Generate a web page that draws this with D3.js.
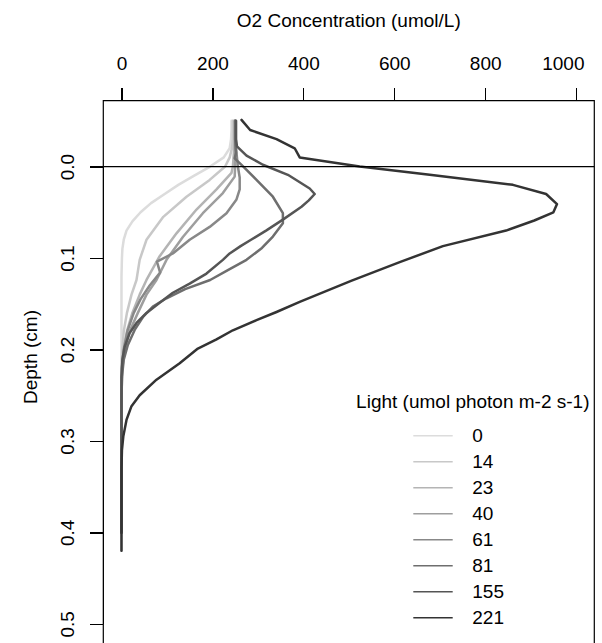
<!DOCTYPE html>
<html>
<head>
<meta charset="utf-8">
<script src="https://cdn.jsdelivr.net/npm/d3@7"></script>
<style>
  html, body { margin: 0; padding: 0; background: #fff; }
  svg { display: block; }
  text { font-family: "Liberation Sans", Arial, Helvetica, sans-serif; fill: #000; }
</style>
</head>
<body>
<svg id="chart" width="602" height="643"></svg>
<script>
// Light levels (umol photon m-2 s-1) and their line shades
const lightLevels = ["0", "14", "23", "40", "61", "81", "155", "221"];
const lineColors = ["#dcdcdc", "#c8c8c8", "#b4b4b4", "#9e9e9e", "#888888", "#6e6e6e", "#555555", "#333333"];

const xTicks = [0, 200, 400, 600, 800, 1000];
const yTicks = [0, 0.1, 0.2, 0.3, 0.4, 0.5];

// O2 profiles: [depth (cm), O2 (umol/L)]
const profile0 = [[-0.05,242],[-0.04,242],[-0.03,241],[-0.02,238],[-0.01,225],[0.0,195],[0.01,160],[0.02,125],[0.03,95],[0.04,65],[0.05,42],[0.06,24],[0.07,11],[0.08,5],[0.09,2],[0.10,1],[0.12,0],[0.2,0],[0.3,0],[0.42,0]];
const profile14 = [[-0.05,245],[-0.03,245],[-0.02,243],[-0.01,238],[0.0,228],[0.0146,194],[0.033,143],[0.055,92],[0.080,55],[0.102,40],[0.124,33],[0.14,22],[0.16,12],[0.18,5],[0.20,2],[0.22,0],[0.30,0],[0.40,0]];
const profile23 = [[-0.05,248],[-0.02,248],[0.0,245],[0.007,242],[0.025,209],[0.047,165],[0.073,121],[0.098,84],[0.124,55],[0.14,40],[0.16,24],[0.18,12],[0.20,5],[0.22,1],[0.25,0],[0.40,0]];
const profile40 = [[-0.05,250],[-0.02,250],[0.0,250],[0.011,249],[0.029,223],[0.051,179],[0.077,135],[0.102,99],[0.124,77],[0.14,55],[0.16,36],[0.18,18],[0.20,7],[0.22,2],[0.25,0],[0.40,0]];
const profile61 = [[-0.05,250],[-0.02,252],[0.0,256],[0.012,260],[0.025,260],[0.036,253],[0.051,231],[0.066,194],[0.080,150],[0.095,113],[0.104,78],[0.116,85],[0.13,62],[0.145,42],[0.16,27],[0.18,13],[0.20,5],[0.22,1],[0.25,0],[0.40,0]];
const profile81 = [[-0.05,250],[-0.03,250],[-0.015,252],[-0.009,249],[0.0,268],[0.0145,297],[0.033,333],[0.051,355],[0.062,355],[0.0765,333],[0.089,309],[0.102,275],[0.113,235],[0.124,195],[0.134,140],[0.144,99],[0.153,69],[0.164,48],[0.1786,29],[0.195,14],[0.211,5],[0.23,1],[0.26,0],[0.40,0]];
const profile155 = [[-0.05,252],[-0.03,252],[-0.022,254],[-0.012,275],[-0.002,311],[0.009,366],[0.024,414],[0.030,425],[0.037,412],[0.044,396],[0.058,355],[0.070,318],[0.080,285],[0.087,262],[0.095,238],[0.102,223],[0.117,187],[0.128,150],[0.138,113],[0.149,84],[0.160,55],[0.171,33],[0.182,18],[0.197,7],[0.211,2],[0.23,0],[0.40,0]];
const profile221 = [[-0.051,264],[-0.040,283],[-0.030,341],[-0.020,381],[-0.010,392],[0.0,524],[0.009,678],[0.020,861],[0.030,934],[0.041,958],[0.050,950],[0.059,908],[0.070,846],[0.087,707],[0.1045,612],[0.125,505],[0.148,392],[0.159,341],[0.168,297],[0.179,245],[0.189,209],[0.199,168],[0.215,128],[0.233,77],[0.250,40],[0.262,22],[0.277,11],[0.295,4],[0.31,1],[0.33,0],[0.42,0]];

const profiles = [profile0, profile14, profile23, profile40, profile61, profile81, profile155, profile221];

const svg = d3.select("#chart");
const fontSize = 19;

// Plot region (depth increases downward, O2 axis on top)
const x = d3.scaleLinear().domain([-40, 1040]).range([103.3, 594.3]);
const y = d3.scaleLinear().domain([-0.072, 0.522]).range([100.7, 644]);

// Profiles
const line = d3.line().x(d => x(d[1])).y(d => y(d[0]));
svg.append("g").selectAll("path")
  .data(profiles)
  .join("path")
  .attr("d", line)
  .attr("fill", "none")
  .attr("stroke", (d, i) => lineColors[i])
  .attr("stroke-width", 2.5)
  .attr("stroke-linejoin", "round")
  .attr("stroke-linecap", "round");

// Sediment surface
svg.append("line")
  .attr("x1", x.range()[0]).attr("x2", x.range()[1])
  .attr("y1", y(0)).attr("y2", y(0))
  .attr("stroke", "#000").attr("stroke-width", 1.3);

// Frame (bottom edge falls below the page)
const [bx0, bx1] = x.range();
const [by0, by1] = y.range();
svg.append("path")
  .attr("d", `M${bx0},${by1 + 2}V${by0}H${bx1}V${by1 + 2}`)
  .attr("fill", "none").attr("stroke", "#000").attr("stroke-width", 1.2);

// Top axis
const xAxis = svg.append("g")
  .attr("transform", `translate(0,${by0})`)
  .call(d3.axisTop(x).tickValues(xTicks).tickSize(13).tickSizeOuter(0).tickFormat(d3.format("d")));
xAxis.select(".domain").attr("d", `M${x(0)},0H${x(1000)}`).attr("stroke", "#000").attr("stroke-width", 1.3);
xAxis.selectAll(".tick line").attr("stroke", "#000").attr("stroke-width", 1.2);
xAxis.selectAll(".tick text")
  .attr("y", 69.5 - by0).attr("dy", 0)
  .attr("font-size", fontSize).attr("font-family", null).attr("fill", "#000");
// the last label is pulled in so it stays inside the frame
xAxis.selectAll(".tick text").filter(d => d === 1000)
  .attr("text-anchor", "end").attr("x", 584 - x(1000));

// Left axis
const yAxis = svg.append("g")
  .attr("transform", `translate(${bx0},0)`)
  .call(d3.axisLeft(y).tickValues(yTicks).tickSize(13).tickSizeOuter(0).tickFormat(d3.format(".1f")));
yAxis.select(".domain").attr("d", `M0,${y(0)}V${y(0.5)}`).attr("stroke", "#000").attr("stroke-width", 1.2);
yAxis.selectAll(".tick line").attr("stroke", "#000").attr("stroke-width", 1.2);
yAxis.selectAll(".tick text")
  .attr("x", null).attr("dy", null)
  .attr("transform", `translate(${73.5 - bx0},0) rotate(-90)`)
  .attr("text-anchor", "middle")
  .attr("font-size", fontSize).attr("font-family", null).attr("fill", "#000");
svg.selectAll(".domain, .tick line").attr("shape-rendering", "crispEdges");

// Axis titles
svg.append("text")
  .attr("x", (bx0 + bx1) / 2).attr("y", 27)
  .attr("text-anchor", "middle").attr("font-size", fontSize)
  .text("O2 Concentration (umol/L)");
svg.append("text")
  .attr("transform", `translate(37,357) rotate(-90)`)
  .attr("text-anchor", "middle").attr("font-size", fontSize)
  .text("Depth (cm)");

// Legend
const legend = svg.append("g");
legend.append("text")
  .attr("x", 589.5).attr("y", 401.7).attr("dy", "0.35em")
  .attr("text-anchor", "end").attr("font-size", fontSize)
  .text("Light (umol photon m-2 s-1)");
const item = legend.selectAll("g.item")
  .data(lightLevels)
  .join("g")
  .attr("class", "item")
  .attr("transform", (d, i) => `translate(0,${435.7 + i * 26})`);
item.append("line")
  .attr("x1", 413.3).attr("x2", 452.7)
  .attr("stroke", (d, i) => lineColors[i]).attr("stroke-width", 1.6);
item.append("text")
  .attr("x", 472.3).attr("dy", "0.35em")
  .attr("font-size", fontSize)
  .text(d => d);
</script>
</body>
</html>
